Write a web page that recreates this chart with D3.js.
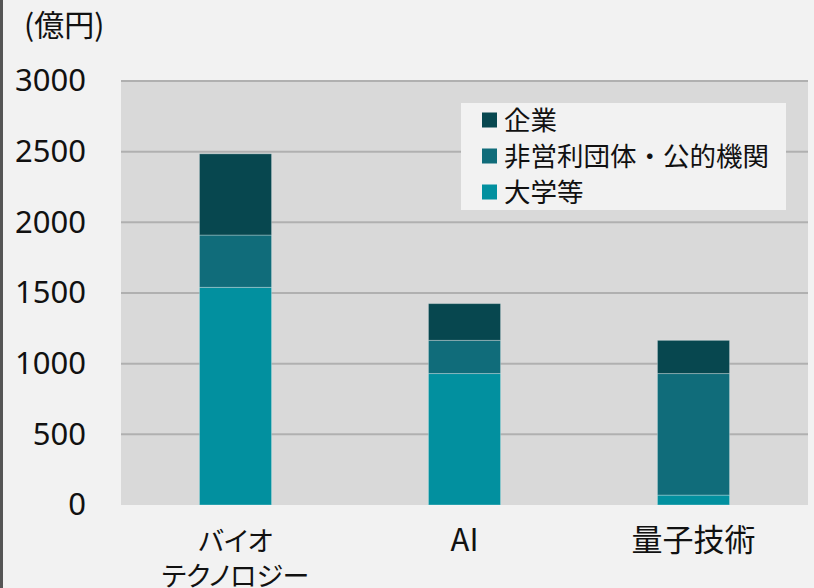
<!DOCTYPE html>
<html>
<head>
<meta charset="utf-8">
<script src="https://cdn.jsdelivr.net/npm/d3@7"></script>
<style>
  body { margin: 0; background: #f2f2f2; }
  svg { display: block; font-family: "Noto Sans CJK JP", "Noto Sans", sans-serif; }
  .palt { font-feature-settings: "palt"; }
</style>
</head>
<body>
<svg width="814" height="588"></svg>
<script>
// カテゴリと系列（億円）
const categories = ['バイオ\nテクノロジー', 'AI', '量子技術'];
const seriesNames = ['大学等', '非営利団体・公的機関', '企業'];
const daigaku = [1540, 930, 70];
const hieiri = [370, 235, 860];
const kigyo = [575, 260, 235];
const yTicks = [0, 500, 1000, 1500, 2000, 2500, 3000];
const colors = ['#02909f', '#106c7a', '#07474f'];

const rows = categories.map((c, i) => ({
  cat: c, '大学等': daigaku[i], '非営利団体・公的機関': hieiri[i], '企業': kigyo[i]
}));

const svg = d3.select('svg');

// 左端の線
svg.append('rect').attr('x', 0).attr('y', 0).attr('width', 3).attr('height', 588).attr('fill', '#555');

const plotLeft = 121, plotRight = 808, plotTop = 81, plotBottom = 505;

const x = d3.scaleBand()
  .domain(categories)
  .range([plotLeft, plotRight])
  .paddingInner(0.685)
  .paddingOuter(0.3425);

const y = d3.scaleLinear()
  .domain([0, 3000])
  .range([plotBottom, plotTop]);

// プロットエリア
svg.append('rect')
  .attr('x', plotLeft).attr('y', plotTop)
  .attr('width', plotRight - plotLeft).attr('height', plotBottom - plotTop)
  .attr('fill', '#d9d9d9');

// グリッド
svg.append('g')
  .selectAll('line')
  .data(yTicks.filter(d => d > 0))
  .enter().append('line')
  .attr('x1', plotLeft).attr('x2', plotRight)
  .attr('y1', d => y(d)).attr('y2', d => y(d))
  .attr('stroke', '#b0b0b0')
  .attr('stroke-width', 2);

// y軸
const yAxis = svg.append('g')
  .attr('transform', `translate(${plotLeft},0)`)
  .call(d3.axisLeft(y).tickValues(yTicks).tickFormat(d3.format('d')).tickSize(0).tickPadding(35));
yAxis.select('.domain').remove();
yAxis.selectAll('text')
  .attr('font-size', 31)
  .attr('fill', '#111')
  .attr('font-family', '"Noto Sans", sans-serif');

// 積み上げ
const stack = d3.stack().keys(seriesNames)(rows);

svg.append('g')
  .selectAll('g')
  .data(stack)
  .enter().append('g')
  .attr('fill', (d, i) => colors[i])
  .selectAll('rect')
  .data(d => d)
  .enter().append('rect')
  .attr('x', d => x(d.data.cat))
  .attr('y', d => y(d[1]))
  .attr('width', x.bandwidth())
  .attr('height', d => y(d[0]) - y(d[1]))
  .attr('stroke', 'rgba(255,255,255,0.3)')
  .attr('stroke-width', 1);

// x軸ラベル
const xLabels = svg.append('g')
  .selectAll('text')
  .data(categories)
  .enter().append('text')
  .attr('class', 'palt')
  .attr('text-anchor', 'middle')
  .attr('font-size', d => d.includes('\n') ? 27 : 31)
  .attr('fill', '#111')
  .attr('x', d => x(d) + x.bandwidth() / 2)
  .attr('y', 551);
xLabels.selectAll('tspan')
  .data(d => d.split('\n'))
  .enter().append('tspan')
  .attr('x', function () { return d3.select(this.parentNode).attr('x'); })
  .attr('dy', (d, i) => i === 0 ? 0 : 35)
  .text(d => d);

// 単位
svg.append('text')
  .attr('x', 24).attr('y', 36)
  .attr('font-size', 30)
  .attr('fill', '#111')
  .text('(億円)');

// 凡例
const legend = svg.append('g');
legend.append('rect')
  .attr('x', 461).attr('y', 103)
  .attr('width', 325).attr('height', 107)
  .attr('fill', '#f2f2f2');

const legendItems = seriesNames.slice().reverse();
const lg = legend.selectAll('g')
  .data(legendItems)
  .enter().append('g')
  .attr('transform', (d, i) => `translate(482, ${120 + i * 36})`);
lg.append('rect')
  .attr('x', 0).attr('y', -7.5)
  .attr('width', 15).attr('height', 15)
  .attr('fill', d => colors[seriesNames.indexOf(d)]);
lg.append('text')
  .attr('x', 22).attr('y', 0)
  .attr('dy', '0.36em')
  .attr('font-size', 26.5)
  .attr('fill', '#111')
  .text(d => d);
</script>
</body>
</html>
